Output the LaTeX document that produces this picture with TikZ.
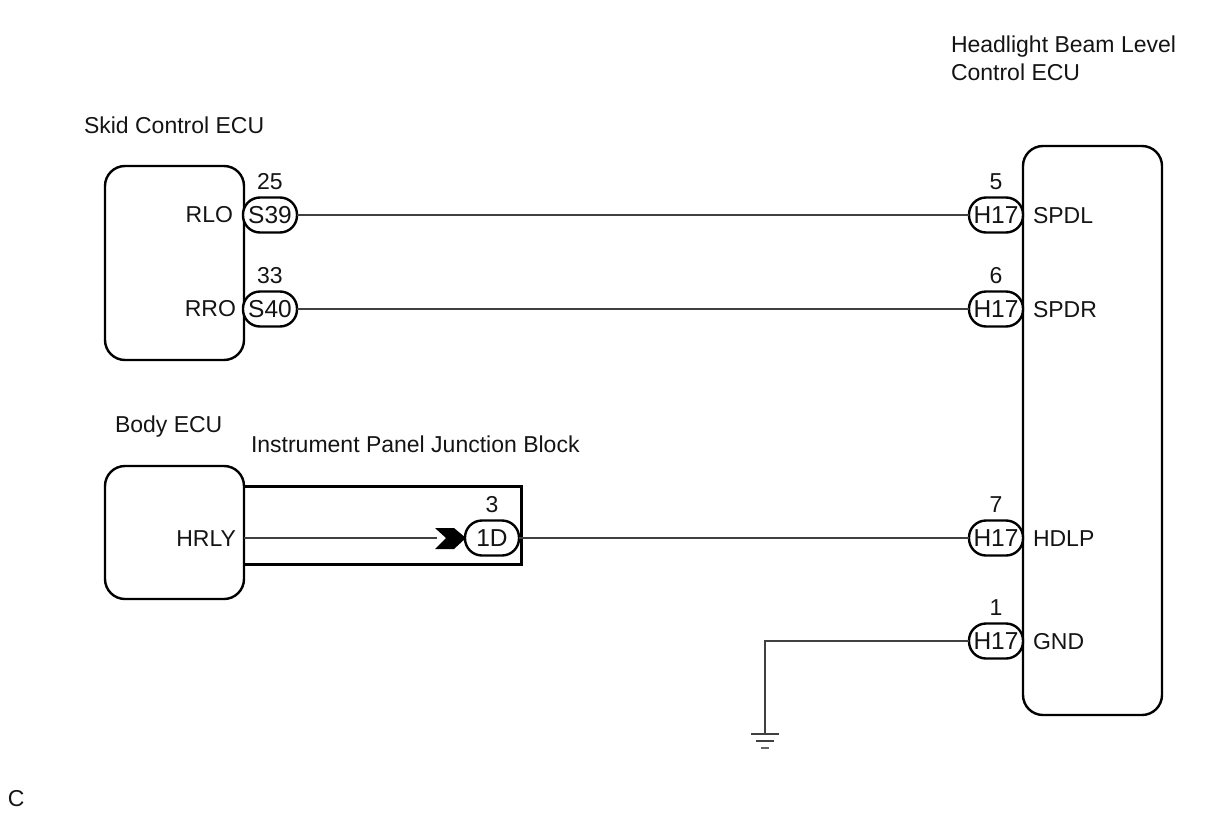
\documentclass[tikz,border=0pt]{standalone}
\usepackage{fontspec}
\setmainfont{Liberation Sans}
\begin{document}
\begin{tikzpicture}[x=1pt,y=-1pt,
  every node/.style={inner sep=0pt,outer sep=0pt,font=\fontsize{23}{28}\selectfont,text=black!92},
  ecubox/.style={draw=black,line width=2.4pt,rounded corners=20pt},
  pill/.style={draw=black,line width=2.4pt,rounded corners=17pt,minimum width=54pt,minimum height=35pt,fill=white,font=\fontsize{24.5}{28}\selectfont},
  wire/.style={draw=black!75,line width=1.8pt},
  lbl/.style={anchor=base west},
  pinlbl/.style={anchor=base east},
  num/.style={anchor=center}]
\useasboundingbox (0,0) rectangle (1210,814);
% ECU boxes
\node[ecubox,minimum width=139pt,minimum height=194pt,anchor=north west] (skid) at (105,166) {};
\node[ecubox,minimum width=139pt,minimum height=133pt,anchor=north west] (body) at (105,466) {};
\node[ecubox,minimum width=139pt,minimum height=569pt,anchor=north west] (hbl) at (1023,146) {};
% titles
\node[lbl] (tskid) at (84,133) {Skid Control ECU};
\node[lbl] (tbody) at (115,432) {Body ECU};
\node[lbl] (tjb) at (251,452) {Instrument Panel Junction Block};
\node[align=left,anchor=north west,font=\fontsize{23}{28}\selectfont] (thbl) at (951,36) {Headlight Beam Level\\Control ECU};
\node[lbl] (tc) at (8,806) {C};
% junction block outline
\draw[black,line width=3pt] (244,486) -- (521,486) -- (521,564) -- (244,564);
% pin labels
\node[pinlbl] (prlo) at (233,222) {RLO};
\node[pinlbl] (prro) at (236,316) {RRO};
\node[pinlbl] (phrly) at (236,546) {HRLY};
\node[lbl] (pspdl) at (1033,223) {SPDL};
\node[lbl] (pspdr) at (1033,317) {SPDR};
\node[lbl] (phdlp) at (1033,546) {HDLP};
\node[lbl] (pgnd) at (1033,649) {GND};
% connector pills
\node[pill] (s39) at (270,215) {S39};
\node[pill] (s40) at (270,309) {S40};
\node[pill] (j1d) at (492,538) {1D};
\node[pill] (ha) at (996,215) {H17};
\node[pill] (hb) at (996,309) {H17};
\node[pill] (hc) at (996,538) {H17};
\node[pill] (hd) at (996,641) {H17};
% pin numbers
\node[num] (n25) at (270,182) {25};
\node[num] (n33) at (270,276) {33};
\node[num] (n3) at (492,505) {3};
\node[num] (n5) at (996,182) {5};
\node[num] (n6) at (996,276) {6};
\node[num] (n7) at (996,505) {7};
\node[num] (n1) at (996,608) {1};
% wires
\draw[wire] (s39.east) -- (ha.west);
\draw[wire] (s40.east) -- (hb.west);
\draw[wire] (j1d.east) -- (hc.west);
\coordinate (chev) at (437,538);
\draw[wire] (body.east |- j1d) -- (chev);
\fill[black] (435,528) -- (454,528) -- (466,538) -- (454,549) -- (435,549) -- (446,538) -- cycle;
\coordinate (gnd) at (765,734);
\draw[wire] (hd.west) -| (gnd);
\draw[black!75,line width=2pt] (751,734) -- (779,734);
\draw[black!75,line width=2pt] (756,741) -- (774,741);
\draw[black!60,line width=2pt] (761,748) -- (769,748);
\end{tikzpicture}
\end{document}
